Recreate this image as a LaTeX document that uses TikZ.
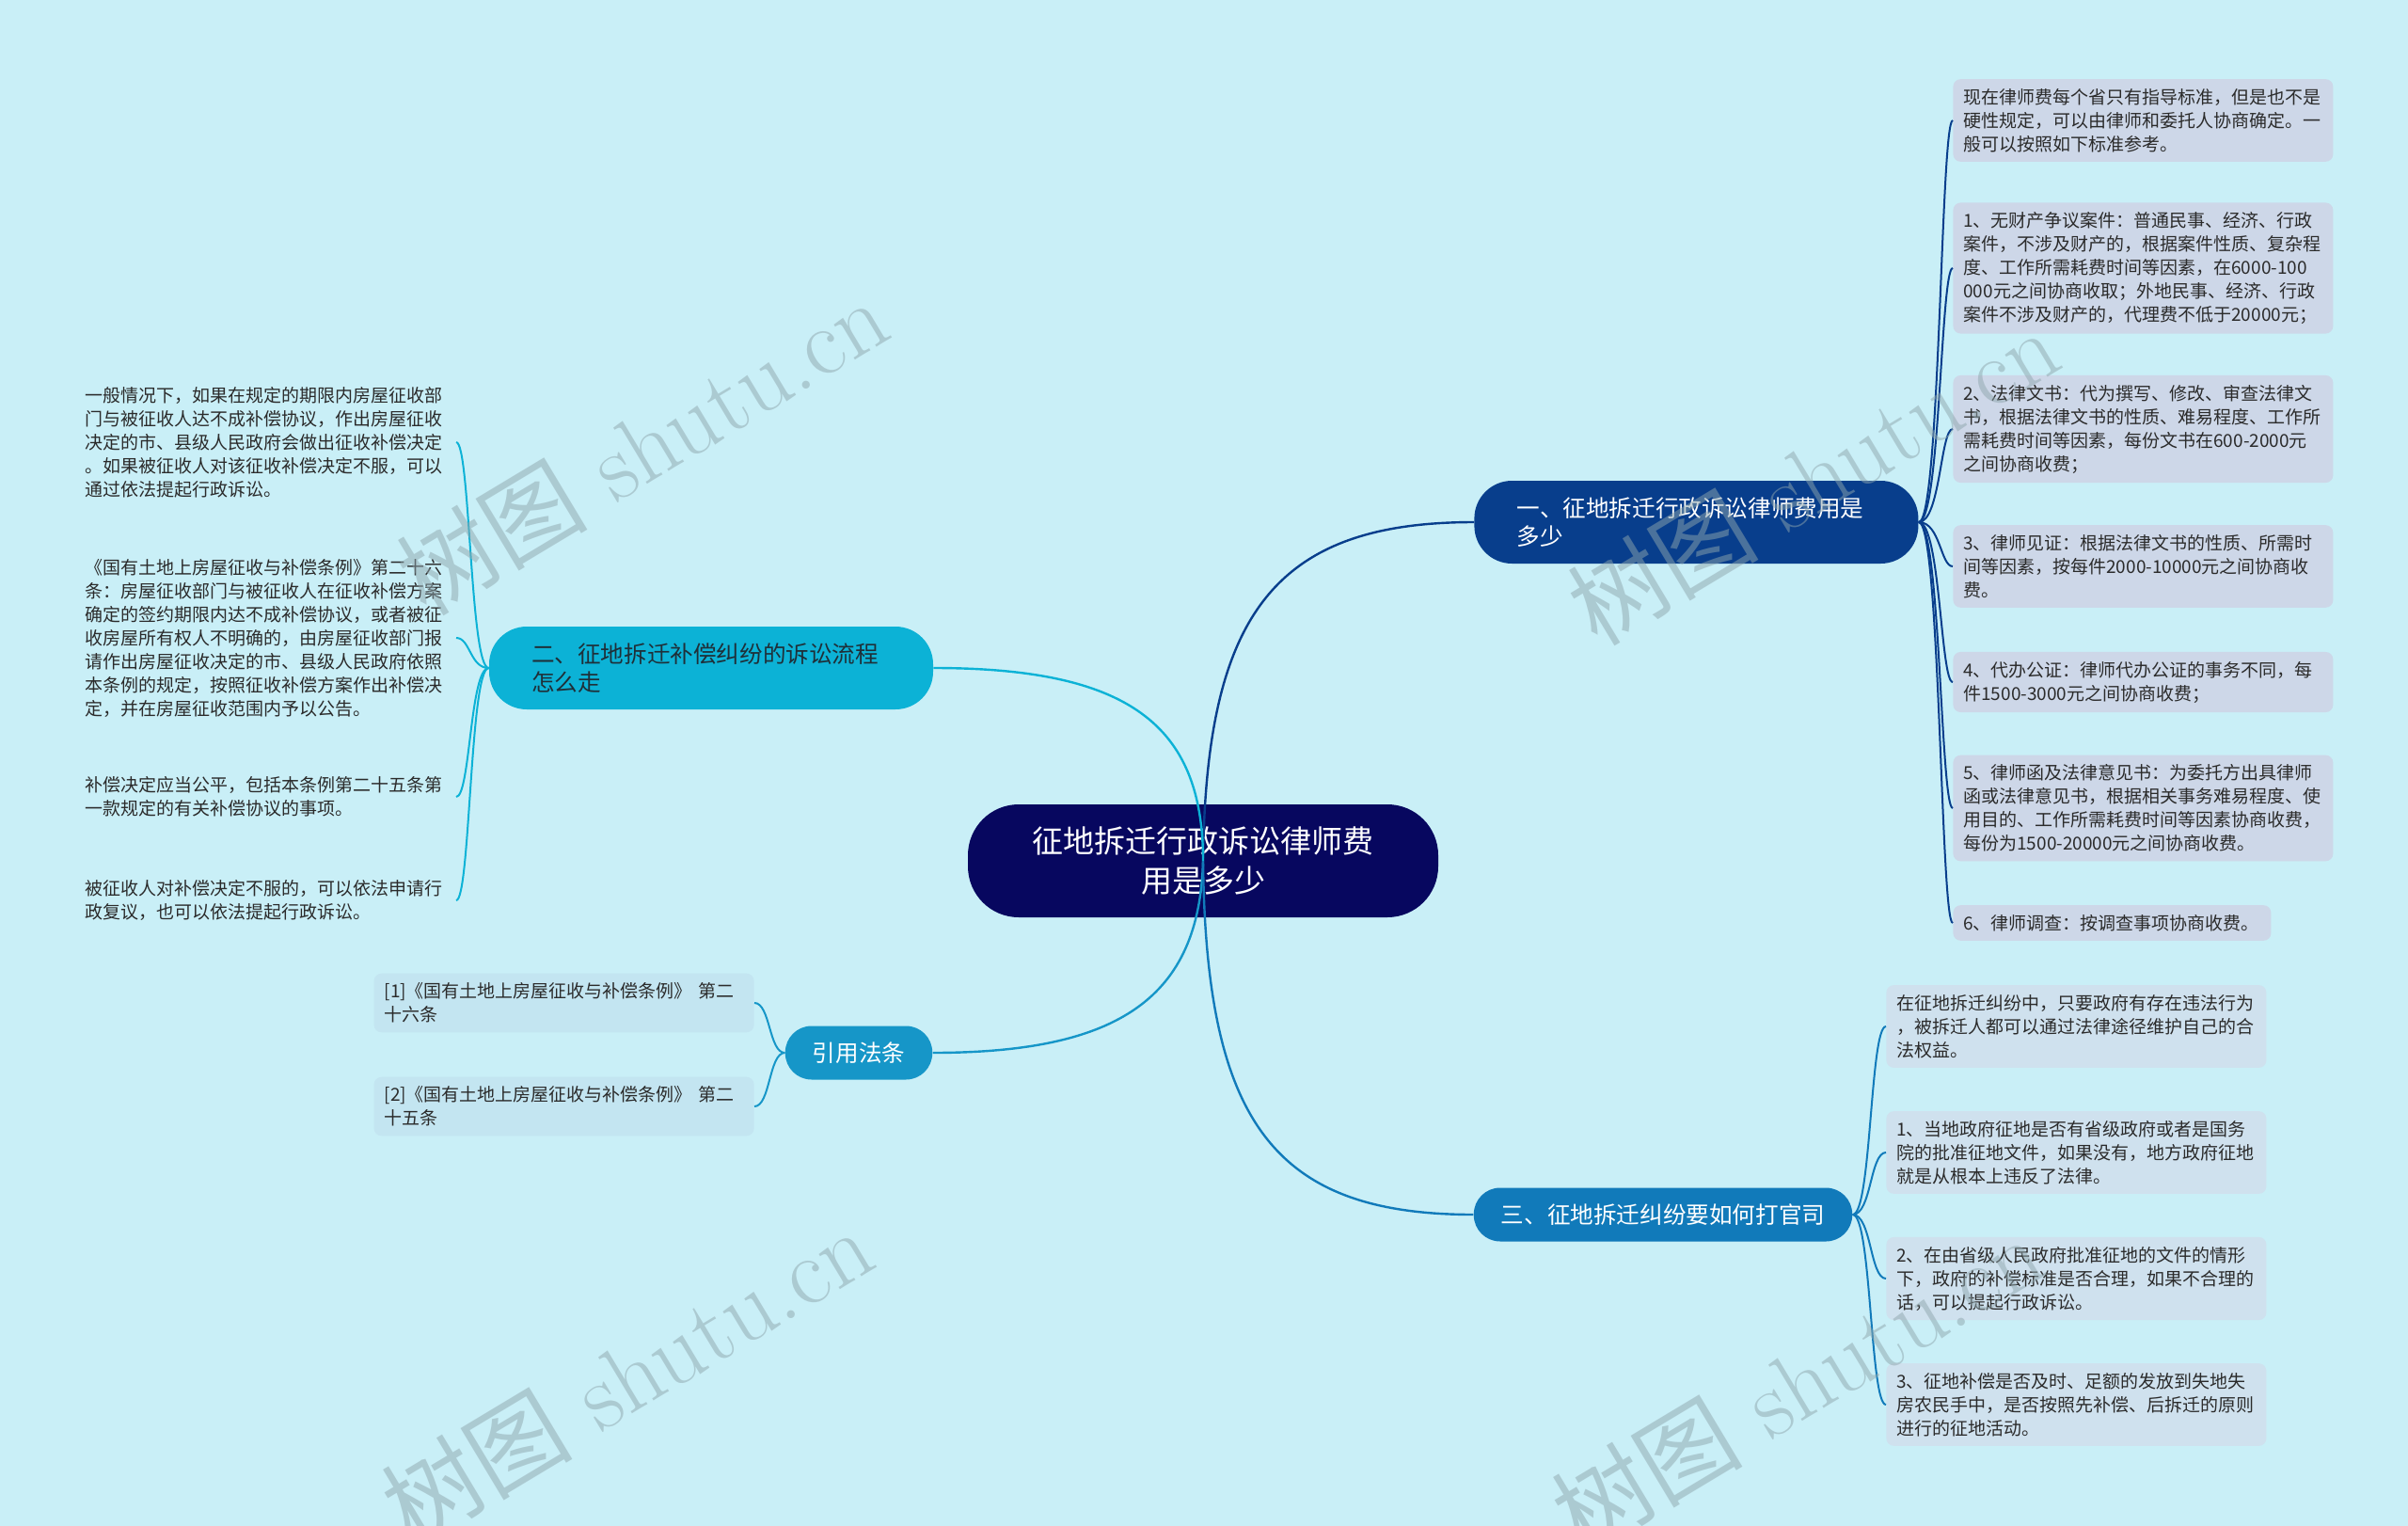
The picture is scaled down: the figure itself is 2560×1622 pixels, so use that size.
\documentclass[tikz,border=0pt]{standalone}
\usepackage{fontspec}
\newfontfamily\cjk{Noto Sans CJK SC}
\usepackage{xcolor}
\usepackage{tikz}

\definecolor{bgcol}{HTML}{C9EFF7}
\definecolor{rootcol}{HTML}{07075F}
\definecolor{feecol}{HTML}{083E8C}
\definecolor{proccol}{HTML}{0CB2D6}
\definecolor{lawcol}{HTML}{1696C8}
\definecolor{suitcol}{HTML}{117ABA}
\definecolor{proctext}{HTML}{1F2F38}
\definecolor{leafcol}{HTML}{2B2B2B}
\definecolor{feebox}{HTML}{CDD7E8}
\definecolor{suitbox}{HTML}{CFE1EE}
\definecolor{lawbox}{HTML}{C3E5F1}
\definecolor{wmcol}{HTML}{8FA6AD}

\begin{document}
\begin{tikzpicture}[x=0.5pt, y=-0.5pt,
    root/.style={fill=rootcol, text=white, rounded corners=27pt, minimum width=250pt, minimum height=60pt, align=center, font=\cjk\fontsize{16.5pt}{21pt}\selectfont},
    topic/.style={rounded corners=20pt, inner xsep=22.5pt, text width=191pt, minimum height=44pt, align=left, font=\cjk\fontsize{12.3pt}{15pt}\selectfont},
    pill/.style={rounded corners=14pt, inner xsep=14.5pt, minimum height=28.5pt, font=\cjk\fontsize{12.3pt}{15pt}\selectfont},
    leaf/.style={rounded corners=4pt, inner xsep=5.5pt, inner ysep=5pt, text width=191pt, align=left, text=leafcol, font=\cjk\fontsize{9.5pt}{12.5pt}\selectfont},
    link/.style={line width=1.2pt},
    twig/.style={line width=1pt},
    watermark/.style={rotate=31, text=wmcol, text opacity=0.5, font=\fontsize{51pt}{51pt}\selectfont}
]
    \fill[bgcol] (0,0) rectangle (2560,1622);
    \useasboundingbox (0,0) rectangle (2560,1622);

    % centre and main topics
    \node[root] (root) at (1279,915) {征地拆迁行政诉讼律师费\\用是多少};
    \node[topic, fill=feecol, text=white, anchor=west] (fee) at (1567,555) {一、征地拆迁行政诉讼律师费用是\\多少};
    \node[topic, fill=proccol, text=proctext] (process) at (756,710) {二、征地拆迁补偿纠纷的诉讼流程\\怎么走};
    \node[pill, fill=lawcol, text=white] (law) at (913,1119) {引用法条};
    \node[pill, fill=suitcol, text=white] (lawsuit) at (1768,1291) {三、征地拆迁纠纷要如何打官司};

    % fees
    \node[leaf, fill=feebox, anchor=west] (fee1) at (2076,128) {现在律师费每个省只有指导标准，但是也不是\\硬性规定，可以由律师和委托人协商确定。一\\般可以按照如下标准参考。};
    \node[leaf, fill=feebox, anchor=west] (fee2) at (2076,285) {1、无财产争议案件：普通民事、经济、行政\\案件，不涉及财产的，根据案件性质、复杂程\\度、工作所需耗费时间等因素，在6000-100\\000元之间协商收取；外地民事、经济、行政\\案件不涉及财产的，代理费不低于20000元；};
    \node[leaf, fill=feebox, anchor=west] (fee3) at (2076,456) {2、法律文书：代为撰写、修改、审查法律文\\书，根据法律文书的性质、难易程度、工作所\\需耗费时间等因素，每份文书在600-2000元\\之间协商收费；};
    \node[leaf, fill=feebox, anchor=west] (fee4) at (2076,602) {3、律师见证：根据法律文书的性质、所需时\\间等因素，按每件2000-10000元之间协商收\\费。};
    \node[leaf, fill=feebox, anchor=west] (fee5) at (2076,725) {4、代办公证：律师代办公证的事务不同，每\\件1500-3000元之间协商收费；};
    \node[leaf, fill=feebox, anchor=west] (fee6) at (2076,859) {5、律师函及法律意见书：为委托方出具律师\\函或法律意见书，根据相关事务难易程度、使\\用目的、工作所需耗费时间等因素协商收费，\\每份为1500-20000元之间协商收费。};
    \node[leaf, fill=feebox, anchor=west, text width=158pt] (fee7) at (2076,981) {6、律师调查：按调查事项协商收费。};

    % procedure
    \node[leaf, anchor=east, inner xsep=6pt] (proc1) at (485,470) {一般情况下，如果在规定的期限内房屋征收部\\门与被征收人达不成补偿协议，作出房屋征收\\决定的市、县级人民政府会做出征收补偿决定\\。如果被征收人对该征收补偿决定不服，可以\\通过依法提起行政诉讼。};
    \node[leaf, anchor=east, inner xsep=6pt] (proc2) at (485,678) {《国有土地上房屋征收与补偿条例》第二十六\\条：房屋征收部门与被征收人在征收补偿方案\\确定的签约期限内达不成补偿协议，或者被征\\收房屋所有权人不明确的，由房屋征收部门报\\请作出房屋征收决定的市、县级人民政府依照\\本条例的规定，按照征收补偿方案作出补偿决\\定，并在房屋征收范围内予以公告。};
    \node[leaf, anchor=east, inner xsep=6pt] (proc3) at (485,847) {补偿决定应当公平，包括本条例第二十五条第\\一款规定的有关补偿协议的事项。};
    \node[leaf, anchor=east, inner xsep=6pt] (proc4) at (485,957) {被征收人对补偿决定不服的，可以依法申请行\\政复议，也可以依法提起行政诉讼。};

    % cited articles
    \node[leaf, fill=lawbox, anchor=east] (law1) at (802,1066) {[1]《国有土地上房屋征收与补偿条例》 第二\\十六条};
    \node[leaf, fill=lawbox, anchor=east] (law2) at (802,1176) {[2]《国有土地上房屋征收与补偿条例》 第二\\十五条};

    % lawsuit
    \node[leaf, fill=suitbox, anchor=west] (suit1) at (2005,1091) {在征地拆迁纠纷中，只要政府有存在违法行为\\，被拆迁人都可以通过法律途径维护自己的合\\法权益。};
    \node[leaf, fill=suitbox, anchor=west] (suit2) at (2005,1225) {1、当地政府征地是否有省级政府或者是国务\\院的批准征地文件，如果没有，地方政府征地\\就是从根本上违反了法律。};
    \node[leaf, fill=suitbox, anchor=west] (suit3) at (2005,1359) {2、在由省级人民政府批准征地的文件的情形\\下，政府的补偿标准是否合理，如果不合理的\\话，可以提起行政诉讼。};
    \node[leaf, fill=suitbox, anchor=west] (suit4) at (2005,1493) {3、征地补偿是否及时、足额的发放到失地失\\房农民手中，是否按照先补偿、后拆迁的原则\\进行的征地活动。};

    % branches
    \foreach \i in {1,...,7}
        \draw[twig, feecol] (fee.east) .. controls +(23,0) and +(-13,0) .. (fee\i.west);
    \foreach \i in {1,...,4}
        \draw[twig, proccol] (process.west) .. controls +(-20,0) and +(15,0) .. (proc\i.east);
    \foreach \i in {1,2}
        \draw[twig, lawcol] (law.west) .. controls +(-17,0) and +(17,0) .. (law\i.east);
    \foreach \i in {1,...,4}
        \draw[twig, suitcol] (lawsuit.east) .. controls +(20,0) and +(-17,0) .. (suit\i.west);

    \draw[link, feecol]  (root.center) .. controls +(3,-262) and +(-212,0) .. (fee.west);
    \draw[link, proccol] (root.center) .. controls +(0,-145) and +(207,0) .. (process.east);
    \draw[link, lawcol]  (root.center) .. controls +(-4,145) and +(199,0) .. (law.east);
    \draw[link, suitcol] (root.center) .. controls +(3,278) and +(-212,0) .. (lawsuit.west);

    % watermark
    \foreach \wx/\wy [count=\i] in {682/474, 1927/506, 666/1462, 1910/1470}
        \node[watermark] (wm\i) at (\wx,\wy) {{\cjk 树图} shutu.cn};
\end{tikzpicture}
\end{document}
